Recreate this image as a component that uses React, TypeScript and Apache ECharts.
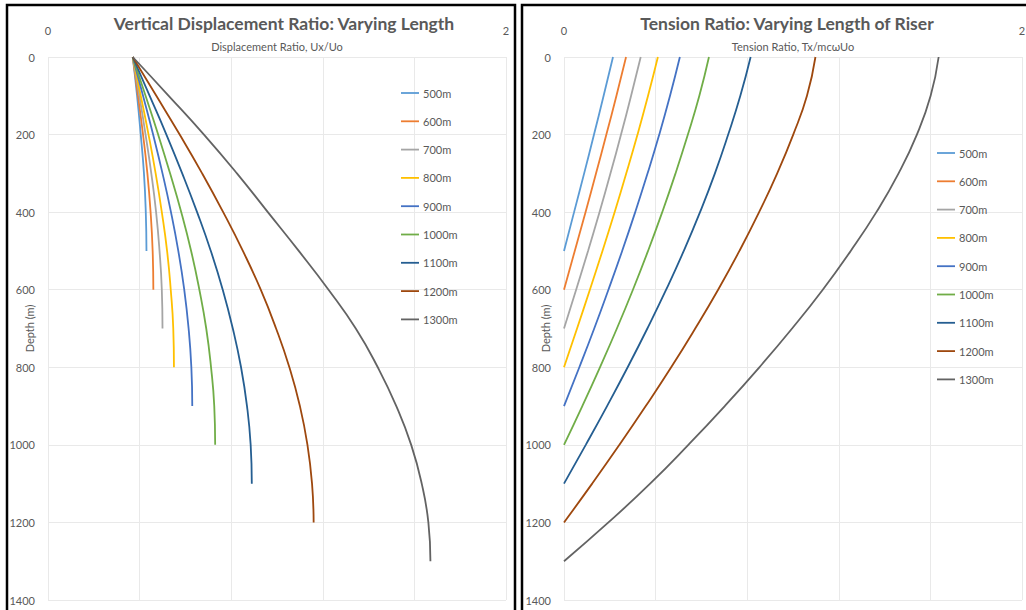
import React, { useEffect, useRef } from "react";
import * as echarts from "echarts";

const lengthNames = ["500m", "600m", "700m", "800m", "900m", "1000m", "1100m", "1200m", "1300m"];
const lineColors = ["#5B9BD5", "#ED7D31", "#A5A5A5", "#FFC000", "#4472C4", "#70AD47", "#255E91", "#9E480E", "#636363"];

const depthGrid = [0, 100, 200, 300, 400, 500, 600, 700, 800, 900, 1000, 1100, 1200, 1300];
const depthTickLabels = ["0", "200", "400", "600", "800", "1000", "1200", "1400"];
const ratioTickLabels = ["0", "2"];

// Vertical displacement ratio Ux/Uo per riser length, at depthGrid positions
const disp500 = [0.37, 0.389, 0.405, 0.419, 0.427, 0.43];
const disp600 = [0.37, 0.393, 0.415, 0.434, 0.448, 0.457, 0.46];
const disp700 = [0.37, 0.399, 0.426, 0.451, 0.472, 0.487, 0.497, 0.5];
const disp800 = [0.37, 0.405, 0.439, 0.47, 0.497, 0.52, 0.536, 0.547, 0.55];
const disp900 = [0.37, 0.415, 0.459, 0.5, 0.537, 0.569, 0.595, 0.614, 0.626, 0.63];
const disp1000 = [0.37, 0.426, 0.481, 0.533, 0.582, 0.625, 0.661, 0.691, 0.712, 0.726, 0.73];
const disp1100 = [0.37, 0.444, 0.517, 0.586, 0.651, 0.711, 0.763, 0.807, 0.843, 0.869, 0.885, 0.89];
const disp1200 = [0.37, 0.473, 0.575, 0.673, 0.765, 0.851, 0.929, 0.996, 1.054, 1.1, 1.133, 1.153, 1.16];
const disp1300 = [0.37, 0.527, 0.681, 0.825, 0.96, 1.095, 1.225, 1.344, 1.44, 1.521, 1.586, 1.632, 1.661, 1.67];

// Tension ratio Tx/mcωUo per riser length, at depthGrid positions
const ten500 = [0.214, 0.173, 0.131, 0.088, 0.044, 0];
const ten600 = [0.271, 0.229, 0.185, 0.14, 0.094, 0.047, 0];
const ten700 = [0.335, 0.293, 0.249, 0.203, 0.155, 0.105, 0.053, 0];
const ten800 = [0.41, 0.367, 0.321, 0.272, 0.221, 0.168, 0.113, 0.057, 0];
const ten900 = [0.506, 0.463, 0.416, 0.365, 0.311, 0.254, 0.194, 0.132, 0.067, 0];
const ten1000 = [0.633, 0.591, 0.541, 0.487, 0.429, 0.367, 0.301, 0.231, 0.157, 0.08, 0];
const ten1100 = [0.815, 0.77, 0.717, 0.659, 0.594, 0.523, 0.446, 0.364, 0.278, 0.188, 0.095, 0];
const ten1200 = [1.098, 1.061, 1.001, 0.931, 0.852, 0.766, 0.673, 0.573, 0.468, 0.357, 0.242, 0.123, 0];
const ten1300 = [1.636, 1.601, 1.541, 1.461, 1.364, 1.252, 1.13, 0.996, 0.853, 0.702, 0.543, 0.376, 0.194, 0];

const dispSeries = [disp500, disp600, disp700, disp800, disp900, disp1000, disp1100, disp1200, disp1300];
const tenSeries = [ten500, ten600, ten700, ten800, ten900, ten1000, ten1100, ten1200, ten1300];

const FONT = "Lato, 'Open Sans', sans-serif";
const TXT = "#595959";
const GRIDLINE = "#E9E9E9";
const LEGEND_LINE_ICON = "path://M0,0M0,6.1L18,6.1L18,7.9L0,7.9ZM18,14";

function makeAxes(idx: number, name: string) {
  const xAxis = {
    type: "value",
    gridIndex: idx,
    position: "top",
    min: 0,
    max: 2,
    interval: 0.4,
    name,
    nameLocation: "middle",
    nameGap: 5,
    nameMoveOverlap: false,
    nameTextStyle: { color: TXT, fontSize: 11, fontFamily: FONT },
    axisLine: { show: false },
    axisTick: { show: false },
    splitLine: { show: true, lineStyle: { color: GRIDLINE, width: 1 } },
    axisLabel: {
      margin: 21,
      color: TXT,
      fontSize: 11,
      fontFamily: FONT,
      showMinLabel: true,
      showMaxLabel: true,
      formatter: (v: number) => (ratioTickLabels.includes(String(v)) ? String(v) : ""),
    },
  };
  const yAxis = {
    type: "value",
    gridIndex: idx,
    inverse: true,
    min: 0,
    max: 1400,
    interval: 200,
    name: "Depth (m)",
    nameLocation: "middle",
    nameGap: 13,
    nameMoveOverlap: false,
    nameTextStyle: { color: TXT, fontSize: 11, fontFamily: FONT },
    axisLine: { show: false },
    axisTick: { show: false },
    splitLine: { show: true, lineStyle: { color: GRIDLINE, width: 1 } },
    axisLabel: {
      margin: 13,
      color: TXT,
      fontSize: 11,
      fontFamily: FONT,
      formatter: (v: number) => (depthTickLabels.includes(String(v)) ? String(v) : ""),
    },
  };
  return { xAxis, yAxis };
}

export default function App() {
  const ref = useRef<HTMLDivElement>(null);
  useEffect(() => {
    if (!ref.current) return;
    const chart = echarts.init(ref.current, undefined, { renderer: "svg" });
    const a0 = makeAxes(0, "Displacement Ratio, Ux/Uo");
    const a1 = makeAxes(1, "Tension Ratio, Tx/mcωUo");

    const series: any[] = [];
    const addSeries = (list: number[][], axisIdx: number) => {
      list.forEach((vals, i) => {
        series.push({
          name: lengthNames[i],
          type: "line",
          xAxisIndex: axisIdx,
          yAxisIndex: axisIdx,
          data: vals.map((v, j) => [v, depthGrid[j]]),
          showSymbol: false,
          symbol: "none",
          smooth: true,
          lineStyle: { color: lineColors[i], width: 1.8 },
          itemStyle: { color: lineColors[i] },
        });
      });
    };
    addSeries(dispSeries, 0);
    addSeries(tenSeries, 1);

    const legendBase = {
      orient: "vertical",
      padding: 0,
      icon: LEGEND_LINE_ICON,
      itemWidth: 18,
      itemHeight: 14,
      itemGap: 14.3,
      data: lengthNames,
      textStyle: { color: TXT, fontSize: 11, fontFamily: FONT, padding: [0, 0, 0, -1] },
      selectedMode: false,
    };

    chart.setOption({
      animation: false,
      backgroundColor: "#ffffff",
      textStyle: { fontFamily: FONT },
      title: [
        {
          text: "Vertical Displacement Ratio: Varying Length",
          left: 279,
          top: 9,
          textAlign: "center",
          textStyle: { color: TXT, fontSize: 17.5, fontWeight: "bold", fontFamily: FONT },
        },
        {
          text: "Tension Ratio: Varying Length of Riser",
          left: 782,
          top: 9,
          textAlign: "center",
          textStyle: { color: TXT, fontSize: 17.5, fontWeight: "bold", fontFamily: FONT },
        },
      ],
      legend: [
        { ...legendBase, left: 401, top: 86 },
        { ...legendBase, left: 937, top: 146 },
      ],
      grid: [
        { left: 48, right: 520, top: 57, bottom: 10, outerBoundsMode: "none", containLabel: false },
        { left: 564, right: 4, top: 57, bottom: 10, outerBoundsMode: "none", containLabel: false },
      ],
      xAxis: [a0.xAxis, a1.xAxis],
      yAxis: [a0.yAxis, a1.yAxis],
      series,
      graphic: [
        {
          type: "rect",
          silent: true,
          z: 100,
          shape: { x: 7, y: 5, width: 508, height: 640 },
          style: { fill: "none", stroke: "#000", lineWidth: 2.5 },
        },
        {
          type: "rect",
          silent: true,
          z: 100,
          shape: { x: 522, y: 5, width: 540, height: 640 },
          style: { fill: "none", stroke: "#000", lineWidth: 2.5 },
        },
      ],
    });
    return () => chart.dispose();
  }, []);
  return (
    <div
      ref={ref}
      style={{ position: "fixed", left: 0, top: 0, width: 1026, height: 610, background: "#fff" }}
    />
  );
}
